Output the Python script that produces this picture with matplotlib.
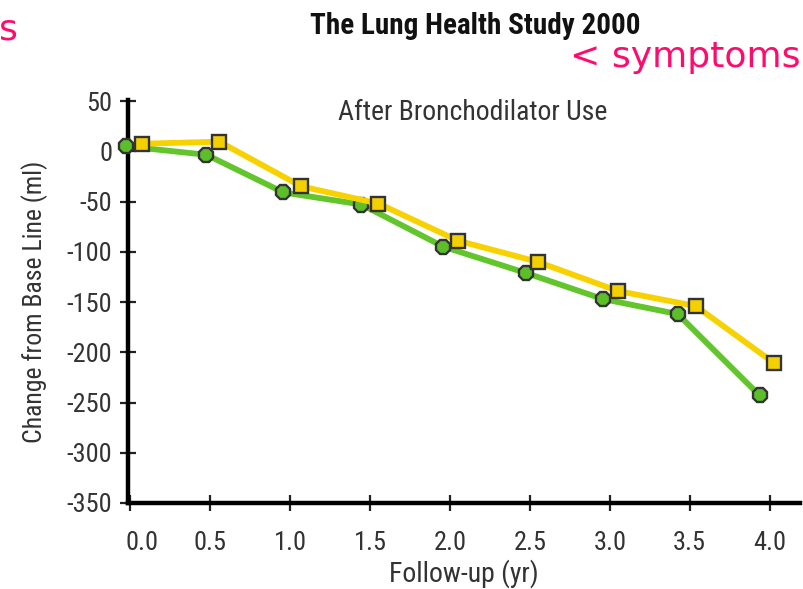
import matplotlib
matplotlib.use("Agg")
import matplotlib.pyplot as plt
from matplotlib import font_manager as fm
from matplotlib.transforms import ScaledTranslation

names = {f.name for f in fm.fontManager.ttflist}
COND = 'DejaVu Sans'
for cand in ['Roboto Condensed', 'Archivo Narrow', 'PT Sans Narrow', 'Liberation Sans Narrow',
             'Pragati Narrow', 'IBM Plex Sans Condensed', 'Encode Sans Condensed']:
    if cand in names:
        COND = cand
        break

# data
green_x = [-0.03, 0.476, 0.958, 1.446, 1.959, 2.473, 2.955, 3.425, 3.937]
green_y = [5, -3.5, -41, -53, -95, -121, -147, -162, -243]
yellow_x = [0.075, 0.557, 1.07, 1.552, 2.05, 2.548, 3.049, 3.537, 4.03]
yellow_y = [7.5, 9.5, -35, -52, -89, -110, -139, -154, -211]
x_ticks = [0.0, 0.5, 1.0, 1.5, 2.0, 2.5, 3.0, 3.5, 4.0]
x_ticklabels = ['0.0', '0.5', '1.0', '1.5', '2.0', '2.5', '3.0', '3.5', '4.0']
y_ticks = [50, 0, -50, -100, -150, -200, -250, -300, -350]

fig = plt.figure(figsize=(8.04, 5.89), dpi=100)
ax = fig.add_axes([128/804, 1-503/589, (800-128)/804, (503-100)/589])
ax.set_xlim(-0.015, 4.19)
ax.set_ylim(-350, 51)

ax.plot(green_x, green_y, color='#62c52c', lw=4.2, marker='8', ms=11.5,
        mfc='#5cbf2a', mec='#333333', mew=1.7, zorder=3, clip_on=False)
ax.plot(yellow_x, yellow_y, color='#f7d200', lw=4.2, marker='s', ms=10.5,
        mfc='#f5d000', mec='#333333', mew=1.7, zorder=4, clip_on=False)

for s in ['top', 'right']:
    ax.spines[s].set_visible(False)
for s in ['left', 'bottom']:
    ax.spines[s].set_linewidth(3.2)
    ax.spines[s].set_color('black')

ax.set_xticks(x_ticks)
ax.set_xticklabels(x_ticklabels)
ax.set_yticks(y_ticks)
ax.set_yticklabels([str(v) for v in y_ticks])
ax.tick_params(direction='inout', length=11, width=1.6, color='#222222',
               labelsize=19, labelcolor='#333333')
ax.tick_params(axis='x', pad=15)
ax.tick_params(axis='y', pad=6)
for lab in ax.get_xticklabels() + ax.get_yticklabels():
    lab.set_fontfamily(COND)
first = ax.get_xticklabels()[0]
first.set_transform(first.get_transform() + ScaledTranslation(12/100, 0, fig.dpi_scale_trans))

ax.set_xlabel('Follow-up (yr)', fontsize=20, family=COND, color='#333333', labelpad=3)
ax.set_ylabel('Change from Base Line (ml)', fontsize=18.5, family=COND, color='#333333', labelpad=13)

fig.text(475/804, 1-26/589, 'The Lung Health Study 2000', ha='center', va='center',
         fontsize=21, fontweight='bold', family=COND, color='#111111')
fig.text(473/804, 1-112/589, 'After Bronchodilator Use', ha='center', va='center',
         fontsize=20, family=COND, color='#333333')
fig.text(801/804, 1-57/589, '< symptoms', ha='right', va='center',
         fontsize=26, family='DejaVu Sans', color='#ff0a6e')
fig.text(-1/804, 1-30/589, 's', ha='left', va='center',
         fontsize=26, family='DejaVu Sans', color='#ff0a6e')

fig.savefig('out.png', dpi=100)
